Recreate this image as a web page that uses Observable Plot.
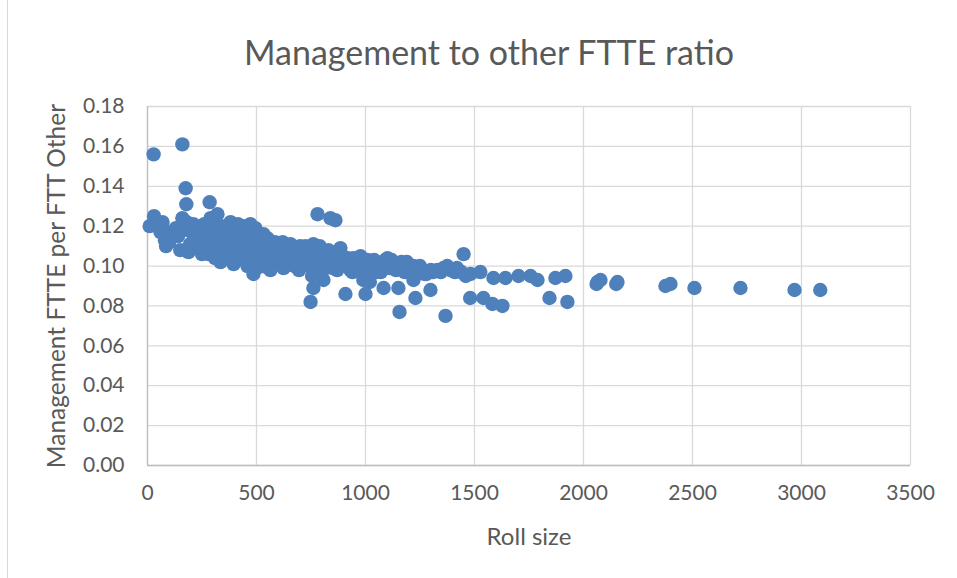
<!DOCTYPE html>
<html>
<head>
<meta charset="utf-8">
<script src="https://cdn.jsdelivr.net/npm/d3@7"></script>
<script src="https://cdn.jsdelivr.net/npm/@observablehq/plot@0.6"></script>
<style>
  body { margin: 0; background: #fff; }
  #wrap { position: relative; width: 957px; height: 578px; overflow: hidden; }
  #title { position: absolute; top: 32px; left: 7px; width: 964px; text-align: center;
           font-family: Lato, "Open Sans", sans-serif; font-size: 34px; color: #595959; line-height: 1.2; }
  #border { position: absolute; left: 7px; top: 0; width: 1px; height: 578px; background: #d9d9d9; }
  #chart { position: absolute; left: 0; top: 0; }
</style>
</head>
<body>
<div id="wrap">
  <div id="border"></div>
  <div id="chart"></div>
  <div id="title">Management to other FTTE ratio</div>
</div>
<script>
const rollSize = [
  10,28,160,30,69,80,85,110,120,140,
  150,160,165,175,178,180,185,188,195,200,
  210,230,240,255,270,275,285,289,295,300,
  305,315,321,325,330,335,345,350,360,370,
  381,385,390,400,405,410,413,420,427,430,
  440,445,450,455,459,465,472,475,480,486,
  490,495,500,505,510,515,520,532,540,545,
  555,564,570,580,590,600,610,624,630,640,
  656,665,675,690,700,710,720,735,748,748,
  755,761,761,770,780,785,795,807,815,825,
  839,845,862,870,885,895,908,915,931,945,
  960,977,985,990,1000,1009,1009,1020,1040,1060,
  1070,1083,1090,1101,1110,1130,1151,1156,1165,1180,
  1200,1220,1220,1229,1240,1260,1280,1298,1310,1330,
  1358,1367,1390,1410,1450,1460,1482,1480,1527,1541,
  1582,1587,1628,1642,1702,1757,1789,1844,1871,1917,
  1926,2060,2064,2078,2150,2156,2376,2399,2509,2720,
  2968,3086,
  60,100,130,210,220,250,260,280,310,340,
  355,375,395,415,435,460,470,485,500,525,
  535,550,560,575,585,595,615,620,645,660,
  680,695,705,725,740,760,775,790,800,810,
  830,850,855,880,900,920,940,955,970,995,
  1030,1050,1075,1120,1140,1190,1210,1250,1270,1300,
  1345,1375,1420,1440
];
const ratio = [
  0.120,0.156,0.161,0.125,0.122,0.113,0.110,0.117,0.116,0.115,
  0.108,0.124,0.123,0.139,0.131,0.122,0.118,0.107,0.111,0.118,
  0.116,0.109,0.113,0.117,0.119,0.112,0.132,0.124,0.120,0.110,
  0.116,0.118,0.126,0.114,0.107,0.102,0.112,0.117,0.109,0.115,
  0.122,0.111,0.105,0.119,0.113,0.107,0.103,0.116,0.114,0.110,
  0.120,0.104,0.112,0.117,0.100,0.108,0.121,0.114,0.110,0.096,
  0.105,0.119,0.099,0.112,0.108,0.102,0.115,0.116,0.110,0.104,
  0.099,0.098,0.112,0.107,0.103,0.110,0.101,0.099,0.106,0.110,
  0.111,0.104,0.100,0.108,0.110,0.102,0.106,0.108,0.100,0.082,
  0.095,0.111,0.089,0.104,0.126,0.108,0.098,0.093,0.106,0.100,
  0.124,0.103,0.123,0.098,0.109,0.105,0.086,0.100,0.098,0.104,
  0.102,0.105,0.096,0.093,0.086,0.103,0.096,0.092,0.103,0.101,
  0.097,0.089,0.103,0.104,0.099,0.101,0.089,0.077,0.102,0.097,
  0.099,0.100,0.093,0.084,0.098,0.097,0.096,0.088,0.097,0.098,
  0.099,0.075,0.098,0.097,0.106,0.095,0.096,0.084,0.097,0.084,
  0.081,0.094,0.080,0.094,0.095,0.095,0.093,0.084,0.094,0.095,
  0.082,0.091,0.092,0.093,0.091,0.092,0.090,0.091,0.089,0.089,
  0.088,0.088,
  0.117,0.112,0.119,0.121,0.113,0.106,0.121,0.106,0.104,0.120,
  0.105,0.119,0.101,0.121,0.106,0.115,0.102,0.117,0.106,0.100,
  0.111,0.114,0.105,0.101,0.112,0.108,0.107,0.112,0.102,0.107,
  0.105,0.098,0.105,0.110,0.104,0.107,0.100,0.110,0.097,0.103,
  0.108,0.099,0.106,0.102,0.101,0.104,0.097,0.099,0.101,0.100,
  0.099,0.097,0.100,0.103,0.098,0.102,0.096,0.100,0.096,0.098,
  0.097,0.100,0.099,0.097
];
const xTicks = [0, 500, 1000, 1500, 2000, 2500, 3000, 3500];
const yTicks = [0, 0.02, 0.04, 0.06, 0.08, 0.10, 0.12, 0.14, 0.16, 0.18];

const data = rollSize.map((x, i) => ({x, y: ratio[i]}));

const chart = Plot.plot({
  width: 957,
  height: 578,
  marginLeft: 147,
  marginRight: 47,
  marginTop: 106,
  marginBottom: 113,
  style: {fontFamily: "Lato, 'Open Sans', sans-serif", fontSize: "21px", color: "#595959", background: "transparent"},
  x: {domain: [0, 3500]},
  y: {domain: [0, 0.18]},
  marks: [
    Plot.gridX(xTicks, {stroke: "#d9d9d9", strokeOpacity: 1, strokeWidth: 1.3}),
    Plot.gridY(yTicks, {stroke: "#d9d9d9", strokeOpacity: 1, strokeWidth: 1.3}),
    Plot.ruleX([0], {stroke: "#bfbfbf", strokeWidth: 1.3}),
    Plot.ruleY([0], {stroke: "#bfbfbf", strokeWidth: 1.3}),
    Plot.axisX(xTicks, {tickSize: 0, tickPadding: 20, tickFormat: d3.format("d"), label: null, fill: "#595959"}),
    Plot.axisX([], {tickSize: 0, label: "Roll size", labelArrow: "none", labelAnchor: "center",
      labelOffset: 79, fontSize: 24, fill: "#595959"}),
    Plot.axisY(yTicks, {tickSize: 0, tickPadding: 23, tickFormat: d3.format(".2f"), label: null, fill: "#595959"}),
    Plot.axisY([], {tickSize: 0, label: "Management FTTE per FTT Other", labelArrow: "none", labelAnchor: "center",
      labelOffset: 100, fontSize: 24.5, fill: "#595959"}),
    Plot.dot(data, {x: "x", y: "y", r: 7.2, fill: "#4e80bc", stroke: "none"})
  ]
});
document.getElementById("chart").appendChild(chart);
</script>
</body>
</html>
